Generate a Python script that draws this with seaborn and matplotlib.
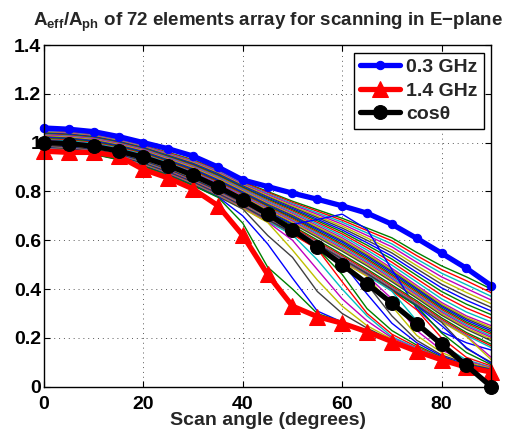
import matplotlib
matplotlib.use("Agg")
import matplotlib.pyplot as plt
import seaborn as sns
import pandas as pd

# ---------------- data ----------------
angles = [0, 5, 10, 15, 20, 25, 30, 35, 40, 45, 50, 55, 60, 65, 70, 75, 80, 85, 90]

ghz_03 = [1.06, 1.055, 1.045, 1.025, 1.0, 0.975, 0.945, 0.9, 0.847, 0.82, 0.793,
          0.768, 0.741, 0.711, 0.666, 0.608, 0.547, 0.485, 0.414]
ghz_14 = [0.965, 0.96, 0.96, 0.945, 0.89, 0.855, 0.81, 0.742, 0.62, 0.46, 0.33,
          0.287, 0.26, 0.225, 0.185, 0.145, 0.11, 0.08, 0.06]
cos_theta = [1.0, 0.9962, 0.9848, 0.9659, 0.9397, 0.9063, 0.8660, 0.8192, 0.7660,
             0.7071, 0.6428, 0.5736, 0.5, 0.4226, 0.3420, 0.2588, 0.1736, 0.0872, 0.0]

# intermediate frequencies (GHz) and their curves (read/estimated from the picture)
thin_freqs = [0.325, 0.35, 0.375, 0.4, 0.425, 0.45, 0.475, 0.5, 0.525, 0.55, 0.575,
              0.6, 0.625, 0.65, 0.675, 0.7, 0.725, 0.75, 0.775, 0.8, 0.825, 0.85,
              0.875, 0.9, 0.925, 0.95, 0.975, 1.0, 1.025, 1.05, 1.075, 1.1, 1.125,
              1.15, 1.175, 1.2, 1.225, 1.25, 1.275, 1.3, 1.325, 1.35, 1.375]
thin_values = [
    [1.05, 1.045, 1.035, 1.015, 0.99, 0.96, 0.93, 0.89, 0.84, 0.80, 0.76, 0.725, 0.69, 0.65, 0.61, 0.55, 0.495, 0.45, 0.40],
    [1.048, 1.043, 1.033, 1.013, 0.988, 0.958, 0.927, 0.887, 0.837, 0.796, 0.755, 0.719, 0.682, 0.64, 0.598, 0.537, 0.48, 0.434, 0.385],
    [1.046, 1.041, 1.031, 1.011, 0.986, 0.955, 0.924, 0.883, 0.833, 0.791, 0.75, 0.712, 0.674, 0.63, 0.585, 0.523, 0.465, 0.418, 0.37],
    [1.044, 1.039, 1.029, 1.009, 0.984, 0.953, 0.921, 0.88, 0.83, 0.787, 0.745, 0.706, 0.666, 0.62, 0.573, 0.51, 0.45, 0.402, 0.355],
    [1.042, 1.037, 1.027, 1.007, 0.982, 0.95, 0.918, 0.876, 0.826, 0.782, 0.74, 0.699, 0.658, 0.61, 0.56, 0.496, 0.435, 0.386, 0.34],
    [1.04, 1.035, 1.025, 1.005, 0.98, 0.948, 0.915, 0.873, 0.823, 0.778, 0.735, 0.693, 0.65, 0.60, 0.548, 0.483, 0.42, 0.37, 0.325],
    [1.038, 1.033, 1.023, 1.003, 0.978, 0.945, 0.912, 0.869, 0.819, 0.773, 0.73, 0.686, 0.642, 0.59, 0.535, 0.469, 0.405, 0.354, 0.31],
    [1.036, 1.031, 1.021, 1.001, 0.976, 0.943, 0.909, 0.866, 0.816, 0.769, 0.725, 0.68, 0.634, 0.58, 0.523, 0.456, 0.39, 0.338, 0.295],
    [1.034, 1.029, 1.019, 0.999, 0.974, 0.94, 0.906, 0.862, 0.812, 0.764, 0.72, 0.673, 0.626, 0.57, 0.51, 0.442, 0.375, 0.322, 0.28],
    [1.032, 1.027, 1.017, 0.997, 0.972, 0.938, 0.903, 0.859, 0.809, 0.76, 0.715, 0.667, 0.618, 0.56, 0.498, 0.429, 0.36, 0.306, 0.265],
    [1.03, 1.025, 1.015, 0.995, 0.97, 0.935, 0.90, 0.855, 0.805, 0.755, 0.71, 0.66, 0.61, 0.55, 0.485, 0.415, 0.345, 0.29, 0.25],
    [1.027, 1.022, 1.012, 0.992, 0.967, 0.932, 0.897, 0.852, 0.802, 0.751, 0.705, 0.655, 0.604, 0.544, 0.479, 0.409, 0.339, 0.284, 0.243],
    [1.024, 1.019, 1.009, 0.989, 0.964, 0.929, 0.893, 0.848, 0.798, 0.747, 0.701, 0.649, 0.598, 0.538, 0.473, 0.403, 0.333, 0.278, 0.236],
    [1.021, 1.016, 1.006, 0.986, 0.961, 0.926, 0.89, 0.845, 0.795, 0.743, 0.696, 0.644, 0.592, 0.532, 0.467, 0.398, 0.328, 0.272, 0.229],
    [1.018, 1.013, 1.003, 0.983, 0.958, 0.923, 0.886, 0.841, 0.791, 0.74, 0.692, 0.638, 0.585, 0.525, 0.46, 0.392, 0.322, 0.265, 0.222],
    [1.015, 1.01, 1.0, 0.98, 0.955, 0.92, 0.883, 0.838, 0.788, 0.736, 0.687, 0.633, 0.579, 0.519, 0.454, 0.386, 0.316, 0.259, 0.215],
    [1.012, 1.007, 0.997, 0.977, 0.952, 0.917, 0.879, 0.834, 0.784, 0.732, 0.682, 0.628, 0.573, 0.513, 0.448, 0.38, 0.31, 0.253, 0.208],
    [1.008, 1.003, 0.993, 0.973, 0.948, 0.913, 0.876, 0.831, 0.781, 0.728, 0.678, 0.622, 0.567, 0.507, 0.442, 0.375, 0.305, 0.247, 0.202],
    [1.005, 1.0, 0.99, 0.97, 0.945, 0.91, 0.872, 0.827, 0.777, 0.724, 0.673, 0.617, 0.561, 0.501, 0.436, 0.369, 0.299, 0.241, 0.195],
    [1.002, 0.997, 0.987, 0.967, 0.942, 0.907, 0.869, 0.824, 0.774, 0.72, 0.668, 0.612, 0.555, 0.495, 0.43, 0.363, 0.293, 0.235, 0.188],
    [0.999, 0.994, 0.984, 0.964, 0.939, 0.904, 0.865, 0.82, 0.77, 0.715, 0.665, 0.685, 0.707, 0.645, 0.48, 0.32, 0.225, 0.18, 0.15],
    [0.996, 0.991, 0.981, 0.961, 0.936, 0.901, 0.862, 0.817, 0.767, 0.713, 0.659, 0.601, 0.542, 0.482, 0.417, 0.352, 0.282, 0.222, 0.174],
    [0.993, 0.988, 0.978, 0.958, 0.933, 0.898, 0.858, 0.813, 0.763, 0.709, 0.655, 0.595, 0.536, 0.476, 0.411, 0.346, 0.276, 0.216, 0.167],
    [0.99, 0.985, 0.975, 0.955, 0.93, 0.895, 0.855, 0.81, 0.76, 0.705, 0.65, 0.59, 0.53, 0.47, 0.405, 0.34, 0.27, 0.21, 0.16],
    [0.989, 0.984, 0.974, 0.954, 0.929, 0.893, 0.853, 0.808, 0.758, 0.703, 0.648, 0.588, 0.528, 0.468, 0.403, 0.338, 0.268, 0.208, 0.12],
    [0.988, 0.983, 0.973, 0.952, 0.927, 0.892, 0.852, 0.806, 0.756, 0.701, 0.646, 0.586, 0.526, 0.466, 0.401, 0.336, 0.266, 0.206, 0.11],
    [0.987, 0.982, 0.971, 0.951, 0.926, 0.89, 0.85, 0.805, 0.754, 0.699, 0.644, 0.584, 0.524, 0.464, 0.399, 0.334, 0.264, 0.156, 0.10],
    [0.986, 0.981, 0.97, 0.95, 0.924, 0.889, 0.848, 0.803, 0.752, 0.697, 0.642, 0.582, 0.522, 0.462, 0.397, 0.332, 0.25, 0.16, 0.095],
    [0.985, 0.979, 0.969, 0.948, 0.923, 0.887, 0.847, 0.801, 0.75, 0.695, 0.64, 0.58, 0.52, 0.46, 0.395, 0.33, 0.22, 0.14, 0.09],
    [0.984, 0.978, 0.968, 0.947, 0.921, 0.886, 0.845, 0.799, 0.749, 0.693, 0.638, 0.578, 0.518, 0.458, 0.393, 0.315, 0.20, 0.12, 0.085],
    [0.983, 0.977, 0.967, 0.946, 0.92, 0.884, 0.843, 0.797, 0.747, 0.691, 0.636, 0.576, 0.516, 0.456, 0.391, 0.27, 0.17, 0.11, 0.08],
    [0.982, 0.976, 0.965, 0.945, 0.918, 0.883, 0.842, 0.796, 0.745, 0.689, 0.634, 0.574, 0.514, 0.454, 0.36, 0.23, 0.15, 0.105, 0.078],
    [0.981, 0.975, 0.964, 0.943, 0.917, 0.881, 0.84, 0.794, 0.743, 0.687, 0.632, 0.572, 0.512, 0.452, 0.33, 0.21, 0.14, 0.10, 0.075],
    [0.98, 0.974, 0.963, 0.942, 0.916, 0.88, 0.839, 0.792, 0.741, 0.685, 0.63, 0.57, 0.51, 0.42, 0.29, 0.19, 0.13, 0.095, 0.072],
    [0.979, 0.973, 0.962, 0.941, 0.914, 0.878, 0.837, 0.79, 0.739, 0.683, 0.628, 0.568, 0.508, 0.38, 0.26, 0.18, 0.125, 0.09, 0.07],
    [0.978, 0.972, 0.961, 0.939, 0.913, 0.876, 0.835, 0.788, 0.737, 0.681, 0.626, 0.566, 0.46, 0.32, 0.23, 0.17, 0.12, 0.088, 0.068],
    [0.977, 0.971, 0.959, 0.938, 0.911, 0.875, 0.834, 0.787, 0.735, 0.679, 0.624, 0.564, 0.43, 0.30, 0.215, 0.163, 0.118, 0.086, 0.066],
    [0.976, 0.97, 0.958, 0.937, 0.91, 0.873, 0.832, 0.785, 0.733, 0.677, 0.622, 0.52, 0.40, 0.29, 0.205, 0.158, 0.116, 0.085, 0.065],
    [0.975, 0.968, 0.957, 0.936, 0.908, 0.872, 0.83, 0.783, 0.732, 0.675, 0.60, 0.48, 0.36, 0.27, 0.20, 0.155, 0.114, 0.084, 0.064],
    [0.974, 0.967, 0.956, 0.934, 0.907, 0.87, 0.829, 0.781, 0.73, 0.673, 0.56, 0.437, 0.33, 0.25, 0.195, 0.152, 0.113, 0.083, 0.063],
    [0.973, 0.966, 0.954, 0.933, 0.905, 0.869, 0.827, 0.779, 0.728, 0.62, 0.53, 0.39, 0.30, 0.24, 0.19, 0.15, 0.112, 0.082, 0.062],
    [0.972, 0.965, 0.953, 0.932, 0.904, 0.867, 0.825, 0.778, 0.70, 0.585, 0.445, 0.31, 0.265, 0.23, 0.188, 0.148, 0.112, 0.081, 0.062],
    [0.971, 0.964, 0.952, 0.93, 0.903, 0.866, 0.824, 0.776, 0.67, 0.49, 0.40, 0.30, 0.265, 0.228, 0.188, 0.148, 0.113, 0.083, 0.065],
]

x_ticks = [0, 20, 40, 60, 80]
y_ticks = [0, 0.2, 0.4, 0.6, 0.8, 1.0, 1.2, 1.4]
y_tick_labels = ["0", "0.2", "0.4", "0.6", "0.8", "1", "1.2", "1.4"]
legend_labels = ["0.3 GHz", "1.4 GHz", "cos\u03b8"]
title_text = "$A_{eff}$/$A_{ph}$ of 72 elements array for scanning in E\u2212plane"

# ---------------- style ----------------
sns.set_theme(style="white")
plt.rcParams["font.family"] = ["Liberation Sans", "DejaVu Sans"]
plt.rcParams["font.weight"] = "bold"
plt.rcParams["mathtext.fontset"] = "custom"
plt.rcParams["mathtext.rm"] = "Liberation Sans:bold"
plt.rcParams["mathtext.it"] = "Liberation Sans:bold"
plt.rcParams["mathtext.bf"] = "Liberation Sans:bold"

matlab_cycle = [(0, 0, 1), (0, 0.5, 0), (1, 0, 0), (0, 0.75, 0.75),
                (0.75, 0, 0.75), (0.75, 0.75, 0), (0.25, 0.25, 0.25)]

fig = plt.figure(figsize=(5.19, 4.37), dpi=100)
ax = fig.add_axes([0.0848, 0.1151, 0.8618, 0.7819])

# thin lines
rows = []
for f, vals in zip(thin_freqs, thin_values):
    for a, v in zip(angles, vals):
        rows.append({"angle": a, "value": v, "freq": f})
df_thin = pd.DataFrame(rows)
palette = {f: matlab_cycle[(i + 1) % 7] for i, f in enumerate(thin_freqs)}
sns.lineplot(data=df_thin, x="angle", y="value", hue="freq", palette=palette,
             estimator=None, linewidth=1.0, legend=False, ax=ax)

df_main = pd.DataFrame({"angle": angles, "b": ghz_03, "r": ghz_14, "k": cos_theta})
sns.lineplot(data=df_main, x="angle", y="b", color=(0, 0, 1), linewidth=3.8,
             marker="o", markersize=6, markeredgecolor=(0, 0, 1), ax=ax, clip_on=False)
sns.lineplot(data=df_main, x="angle", y="r", color=(1, 0, 0), linewidth=3.8,
             marker="^", markersize=12, markeredgecolor=(1, 0, 0), ax=ax, clip_on=False)
sns.lineplot(data=df_main, x="angle", y="k", color="black", linewidth=3.8,
             marker="o", markersize=10, markeredgecolor="black", ax=ax, clip_on=False)

handles = ax.lines[-3:]
leg = ax.legend(handles, legend_labels, loc="upper right", fontsize=14,
                frameon=True, fancybox=False, framealpha=1, edgecolor="black",
                handlelength=2.1, labelspacing=0.3, borderaxespad=0.4,
                handletextpad=0.3, borderpad=0.3)
leg.get_frame().set_linewidth(1.0)
for t in leg.get_texts():
    t.set_fontweight("bold")

ax.set_xlim(0, 90)
ax.set_ylim(0, 1.4)
ax.set_xticks(x_ticks)
ax.set_xticklabels([str(v) for v in x_ticks], fontsize=14, fontweight="bold")
ax.set_yticks(y_ticks)
ax.set_yticklabels(y_tick_labels, fontsize=14, fontweight="bold")
ax.tick_params(direction="in", length=4, width=0.8, top=True, right=True,
               bottom=True, left=True, colors="black")
ax.tick_params(axis="x", pad=7)
ax.tick_params(axis="y", pad=2)
ax.grid(True, linestyle=(0, (1, 4)), color="0.35", linewidth=0.7)
for s in ax.spines.values():
    s.set_color("black")
    s.set_linewidth(1.0)
    s.set_visible(True)

ax.set_xlabel("Scan angle (degrees)", fontsize=14, fontweight="bold", labelpad=-1)
ax.set_ylabel("")
ax.set_title(title_text, fontsize=13.5, fontweight="bold", pad=14)

fig.savefig("out.png", dpi=100)
